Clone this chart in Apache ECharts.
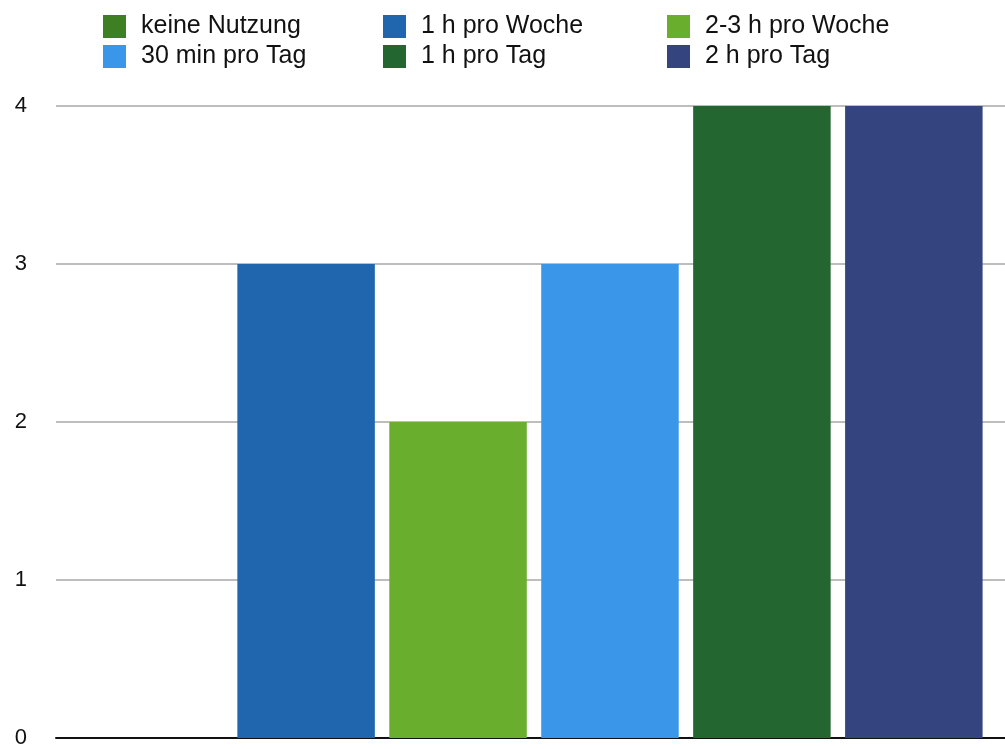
<!DOCTYPE html>
<html>
<head>
<meta charset="utf-8">
<script src="https://cdn.jsdelivr.net/npm/echarts@6/dist/echarts.min.js"></script>
<style>html,body{margin:0;padding:0;background:#fff;overflow:hidden}#c{width:1012px;height:749px}</style>
</head>
<body>
<div id="c"></div>
<script>
const categories = [''];
const seriesNames = ['keine Nutzung', '1 h pro Woche', '2-3 h pro Woche', '30 min pro Tag', '1 h pro Tag', '2 h pro Tag'];
const seriesValues = [0, 3, 2, 3, 4, 4];
const seriesColors = ['#3f7f24', '#1f66ae', '#6aae2e', '#3a96e8', '#236630', '#33447f'];
const yTicks = [0, 1, 2, 3, 4];

const legendPos = [
  [103, 14], [383, 14], [667, 14],
  [103, 44], [383, 44], [667, 44]
];

const chart = echarts.init(document.getElementById('c'), null, {renderer: 'canvas'});
chart.setOption({
  animation: false,
  backgroundColor: '#ffffff',
  textStyle: {fontFamily: 'Liberation Sans, Arial, sans-serif'},
  legend: seriesNames.map((n, i) => ({
    data: [n],
    left: legendPos[i][0],
    top: legendPos[i][1],
    icon: 'rect',
    itemWidth: 23,
    itemHeight: 23,
    itemGap: 0,
    padding: 0,
    textStyle: {fontSize: 25, color: '#111', padding: [6, 0, 0, 10], fontFamily: 'Liberation Sans, Arial, sans-serif'},
    selectedMode: false
  })),
  grid: {left: 56, top: 106, bottom: 8, right: 0, containLabel: false},
  xAxis: {
    type: 'category',
    data: categories,
    axisLine: {show: true, lineStyle: {color: '#111', width: 2}},
    axisTick: {show: false},
    axisLabel: {show: false},
    splitLine: {show: false}
  },
  yAxis: {
    type: 'value',
    min: yTicks[0],
    max: yTicks[yTicks.length - 1],
    interval: 1,
    axisLine: {show: false},
    axisTick: {show: false},
    axisLabel: {fontSize: 22, color: '#111', margin: 29, fontFamily: 'Liberation Sans, Arial, sans-serif'},
    splitLine: {show: true, lineStyle: {color: '#bdbdbd', width: 2}}
  },
  series: seriesNames.map((n, i) => ({
    name: n,
    type: 'bar',
    data: [seriesValues[i]],
    barWidth: 137.5,
    barGap: '10.5%',
    itemStyle: {color: seriesColors[i]}
  }))
});
</script>
</body>
</html>
